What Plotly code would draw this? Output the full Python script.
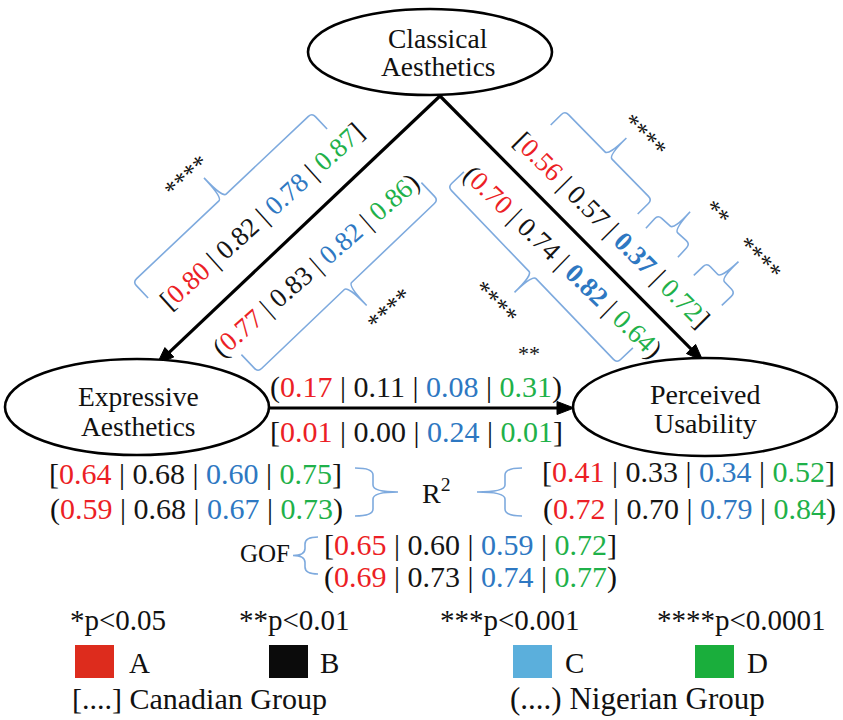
import numpy as np
import plotly.graph_objects as go

# ---- data -------------------------------------------------------------
groups = ["A", "B", "C", "D"]
value_colors = ["#ec1f26", "#151515", "#2e78c2", "#1fb14a"]
swatch_colors = ["#dd2c1d", "#0b0b0b", "#5bafdc", "#1aae3c"]

# path coefficients: Classical -> Expressive
ca_ea_canadian = [0.80, 0.82, 0.78, 0.87]
ca_ea_nigerian = [0.77, 0.83, 0.82, 0.86]
# Classical -> Perceived Usability
ca_pu_canadian = [0.56, 0.57, 0.37, 0.72]
ca_pu_nigerian = [0.70, 0.74, 0.82, 0.64]
# Expressive -> Perceived Usability
ea_pu_nigerian = [0.17, 0.11, 0.08, 0.31]
ea_pu_canadian = [0.01, 0.00, 0.24, 0.01]
# R squared
r2_ea_canadian = [0.64, 0.68, 0.60, 0.75]
r2_ea_nigerian = [0.59, 0.68, 0.67, 0.73]
r2_pu_canadian = [0.41, 0.33, 0.34, 0.52]
r2_pu_nigerian = [0.72, 0.70, 0.79, 0.84]
# goodness of fit
gof_canadian = [0.65, 0.60, 0.59, 0.72]
gof_nigerian = [0.69, 0.73, 0.74, 0.77]

sig_levels = ["*p<0.05", "**p<0.01", "***p<0.001", "****p<0.0001"]

# ---- styling ----------------------------------------------------------
FONT = "Liberation Serif"
BRACE_BLUE = "#7eaade"
INK = "#111111"
W, H = 843, 720
ROW = 30  # size of the horizontal coefficient rows


def row(vals, group, bold=()):
    o, c = ("[", "]") if group == "canadian" else ("(", ")")
    parts = []
    for i, (v, col) in enumerate(zip(vals, value_colors)):
        weight = "bold" if i in bold else "normal"
        parts.append(f'<span style="color:{col};font-weight:{weight}">{v:.2f}</span>')
    return o + " | ".join(parts) + c


fig = go.Figure()
shapes = []
annotations = []


def text(x, y, s, size=28, angle=0, xanchor="center", color=INK):
    annotations.append(dict(x=x, y=y, xref="x", yref="y", text=s, showarrow=False,
                            textangle=angle, xanchor=xanchor, yanchor="middle",
                            font=dict(family=FONT, size=size, color=color)))


def arrow(tail, head, head_len=17, half_w=6.5):
    t = np.array(tail, float)
    h = np.array(head, float)
    d = (h - t) / np.linalg.norm(h - t)
    n = np.array([-d[1], d[0]])
    base = h - head_len * d
    shapes.append(dict(type="line", xref="x", yref="y", x0=t[0], y0=t[1],
                       x1=base[0] + 2 * d[0], y1=base[1] + 2 * d[1],
                       line=dict(color="#000000", width=3.2)))
    a, b = base + half_w * n, base - half_w * n
    shapes.append(dict(type="path", xref="x", yref="y",
                       path=f"M{h[0]:.1f},{h[1]:.1f} L{a[0]:.1f},{a[1]:.1f} "
                            f"L{b[0]:.1f},{b[1]:.1f} Z",
                       fillcolor="#000000", line=dict(color="#000000", width=1)))


def ellipse(cx, cy, rx, ry):
    shapes.append(dict(type="circle", xref="x", yref="y", x0=cx - rx, x1=cx + rx,
                       y0=cy - ry, y1=cy + ry, line=dict(color="#000000", width=2.6),
                       fillcolor="white"))


def brace(c1, c2, leg, tick, side):
    """Curly brace along c1->c2; legs point to `side` normal, tick opposite."""
    c1 = np.array(c1, float)
    c2 = np.array(c2, float)
    d = (c2 - c1) / np.linalg.norm(c2 - c1)
    n = side * np.array([-d[1], d[0]])
    mid = (c1 + c2) / 2
    e1, e2 = c1 + leg * n, c2 + leg * n
    tip = mid - tick * n
    r = 5
    P = lambda p: f"{p[0]:.1f},{p[1]:.1f}"
    path = (f"M{P(e1)} L{P(c1 + r * n)} Q{P(c1)} {P(c1 + r * d)} "
            f"L{P(mid - r * d)} Q{P(mid)} {P(tip)} "
            f"M{P(tip)} Q{P(mid)} {P(mid + r * d)} "
            f"L{P(c2 - r * d)} Q{P(c2)} {P(c2 + r * n)} L{P(e2)}")
    shapes.append(dict(type="path", path=path, xref="x", yref="y",
                       line=dict(color=BRACE_BLUE, width=1.6)))


def vbrace(x_end, x_spine, x_tip, y_top, y_bot):
    """Vertical curly brace; opens toward x_end, tick points to x_tip."""
    ym = (y_top + y_bot) / 2
    r = 7
    path = (f"M{x_end},{y_top} Q{x_spine},{y_top} {x_spine},{y_top + r} "
            f"L{x_spine},{ym - r} Q{x_spine},{ym} {x_tip},{ym} "
            f"Q{x_spine},{ym} {x_spine},{ym + r} "
            f"L{x_spine},{y_bot - r} Q{x_spine},{y_bot} {x_end},{y_bot}")
    shapes.append(dict(type="path", path=path, xref="x", yref="y",
                       line=dict(color=BRACE_BLUE, width=1.6)))


# ---- structural paths -------------------------------------------------
arrow((440, 96), (157, 364))
arrow((440, 96), (703, 361))
arrow((270, 408), (574, 408))

ellipse(430, 52, 122, 43)
ellipse(137, 407, 132, 48)
ellipse(705, 407, 132, 49)

text(438, 38, "Classical", 27.5)
text(438, 66, "Aesthetics", 27.5)
text(138, 396, "Expressive", 27.5)
text(138, 426, "Aesthetics", 27.5)
text(705, 394, "Perceived", 28)
text(705, 423, "Usability", 28)

# ---- coefficients along the diagonal paths ----------------------------
text(262, 216, row(ca_ea_canadian, "canadian"), 27, angle=-42)
text(316, 265, row(ca_ea_nigerian, "nigerian"), 27, angle=-41)
text(612, 230, row(ca_pu_canadian, "canadian", bold=(2,)), 27, angle=45)
text(563, 262, row(ca_pu_nigerian, "nigerian", bold=(2,)), 27, angle=44)

brace((312, 113), (133, 282), 22, 27, -1)
brace((438, 200), (258, 372), 24, 27, +1)
brace((565, 111), (652, 200), 20, 25, +1)
brace((658, 215), (690, 244), 18, 24, +1)
brace((707, 263), (735, 293), 18, 24, +1)
brace((448, 187), (617, 363), 22, 25, -1)

text(186, 176, "****", 25, angle=-42)
text(389, 309, "****", 25, angle=-42)
text(645, 135, "****", 25, angle=45)
text(717, 212, "**", 25, angle=45)
text(760, 258, "****", 25, angle=45)
text(496, 302, "****", 25, angle=45)

# ---- horizontal path --------------------------------------------------
text(529, 353, "**", 22)
text(416, 387, row(ea_pu_nigerian, "nigerian"), ROW)
text(416, 431, row(ea_pu_canadian, "canadian"), ROW)

# ---- R squared and GOF ------------------------------------------------
text(195, 473, row(r2_ea_canadian, "canadian"), ROW)
text(196, 509, row(r2_ea_nigerian, "nigerian"), ROW)
text(688, 471, row(r2_pu_canadian, "canadian"), ROW)
text(689, 509, row(r2_pu_nigerian, "nigerian"), ROW)
vbrace(355, 373, 398, 468, 516)
vbrace(522, 505, 477, 468, 516)
text(436, 491, "R<sup>2</sup>", 28)

text(265, 553, "GOF", 25)
vbrace(318, 305, 293, 537, 574)
text(470, 544, row(gof_canadian, "canadian"), ROW)
text(470, 577, row(gof_nigerian, "nigerian"), ROW)

# ---- key --------------------------------------------------------------
for s, x in zip(sig_levels, [118, 294, 510, 741]):
    text(x, 620, s, 29)

swatch_x = [75, 269, 513, 695]
label_x = [127, 318, 563, 745]
for g, c, sx, lx in zip(groups, swatch_colors, swatch_x, label_x):
    shapes.append(dict(type="rect", xref="x", yref="y", x0=sx, x1=sx + 39,
                       y0=645, y1=678, fillcolor=c, line=dict(width=0)))
    text(lx, 663, g, 29, xanchor="left")

text(70, 698, "[....] Canadian Group", 30, xanchor="left")
text(508, 698, "(....) Nigerian Group", 31, xanchor="left")

fig.update_layout(
    width=W, height=H, margin=dict(l=0, r=0, t=0, b=0), autosize=False,
    paper_bgcolor="white", plot_bgcolor="white", showlegend=False,
    xaxis=dict(range=[0, W], visible=False, fixedrange=True),
    yaxis=dict(range=[H, 0], visible=False, fixedrange=True),
    shapes=shapes, annotations=annotations,
)
fig.write_html("out.html")
